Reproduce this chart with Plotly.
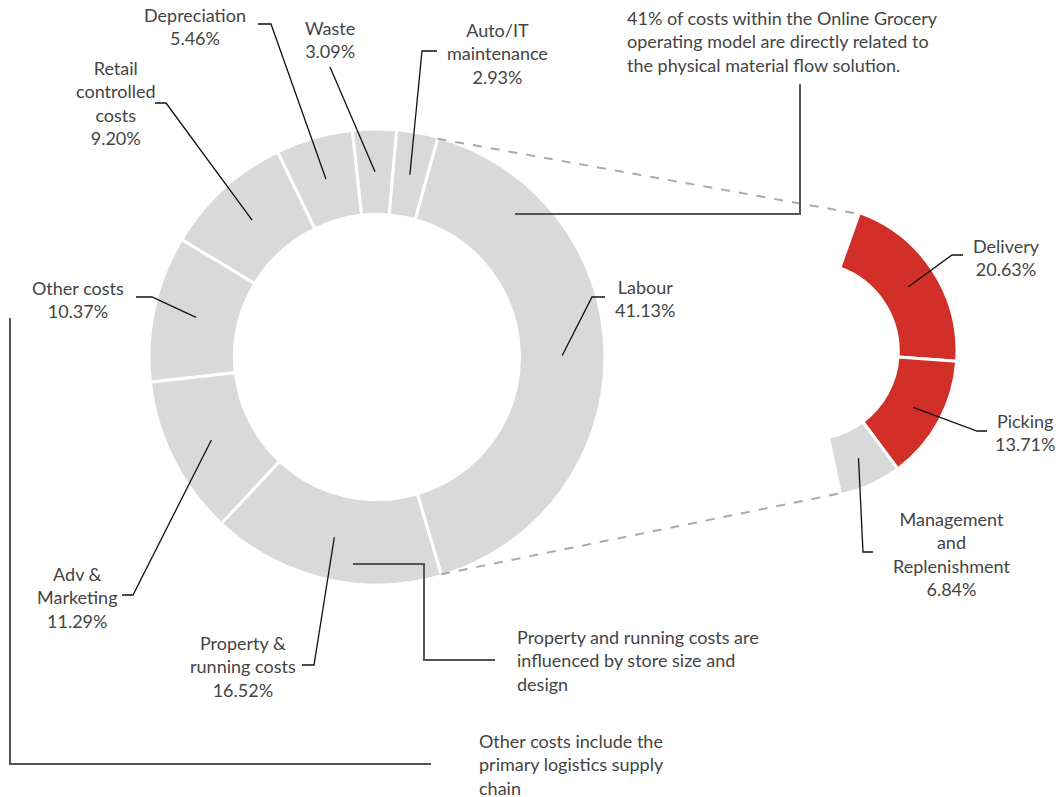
import math
import plotly.graph_objects as go

# ---- data -------------------------------------------------------------
cost_names = ["Labour", "Property &<br>running costs", "Adv &<br>Marketing", "Other costs",
              "Retail<br>controlled<br>costs", "Depreciation", "Waste", "Auto/IT<br>maintenance"]
cost_share = [41.13, 16.52, 11.29, 10.37, 9.20, 5.46, 3.09, 2.93]

labour_names = ["Delivery", "Picking", "Management<br>and<br>Replenishment"]
labour_share = [20.63, 13.71, 6.84]

note_labour = "41% of costs within the Online Grocery<br>operating model are directly related to<br>the physical material flow solution."
note_property = "Property and running costs are<br>influenced by store size and<br>design"
note_other = "Other costs include the<br>primary logistics supply<br>chain"

# ---- canvas / geometry (pixels, y down) -------------------------------
W, H = 1056, 797
FONT = "Lato"
TXT = "#444444"
GREY = "#d9d9d9"
RED = "#d12f28"
LINE_W = 3

MAIN_C, MAIN_R, MAIN_HOLE, MAIN_ROT = (377, 357), 228, 0.625, 15.5
SUB_C, SUB_R, SUB_HOLE, SUB_ROT = (810, 351), 147, 0.6, 19.7


def px(x):
    return x / W


def py(y):
    return 1 - y / H


def domain(c, r):
    return dict(x=[px(c[0] - r), px(c[0] + r)], y=[py(c[1] + r), py(c[1] - r)])


def polar(c, r, deg):
    a = math.radians(deg)
    return (c[0] + r * math.sin(a), c[1] - r * math.cos(a))


def slice_angles(values, rot, total):
    out, a = [], rot
    for v in values:
        b = a + v / total * 360
        out.append((a, b))
        a = b
    return out


def path(points):
    return "M " + " L ".join(f"{px(x):.5f},{py(y):.5f}" for x, y in points)


total_main = sum(cost_share)
main_ang = slice_angles(cost_share, MAIN_ROT, total_main)
sub_ang = slice_angles(labour_share, SUB_ROT, 100.0)

fig = go.Figure()

fig.add_trace(go.Pie(
    values=cost_share, labels=[n.replace("<br>", " ") for n in cost_names],
    sort=False, direction="clockwise", rotation=MAIN_ROT, hole=MAIN_HOLE,
    marker=dict(colors=[GREY] * len(cost_share), line=dict(color="white", width=LINE_W)),
    textinfo="none", hoverinfo="label+percent", showlegend=False,
    domain=domain(MAIN_C, MAIN_R),
))

hidden = 100.0 - sum(labour_share)
fig.add_trace(go.Pie(
    values=labour_share + [hidden], labels=[n.replace("<br>", " ") for n in labour_names] + [""],
    sort=False, direction="clockwise", rotation=SUB_ROT, hole=SUB_HOLE,
    marker=dict(colors=[RED, RED, GREY, "rgba(0,0,0,0)"],
                line=dict(color="white", width=[LINE_W, LINE_W, LINE_W, 0])),
    textinfo="none", hoverinfo="skip", showlegend=False,
    domain=domain(SUB_C, SUB_R),
))

shapes = []
annotations = []

# label text position and leader elbow (text end -> elbow -> slice)
main_label_pos = [
    dict(xy=(645, 298), line=[(605, 297), (592, 297)]),           # Labour
    dict(xy=(243, 666), line=[(302, 665), (314, 665)]),           # Property
    dict(xy=(77, 597), line=[(122, 595), (133, 595)]),            # Adv
    dict(xy=(78, 299), line=[(136, 297), (152, 297)]),            # Other
    dict(xy=(115, 103), line=[(155, 103), (166, 103)]),           # Retail
    dict(xy=(195, 26), line=[(258, 24), (271, 24)]),              # Depreciation
    dict(xy=(330, 40), line=[(330, 67)]),                         # Waste
    dict(xy=(497, 54), line=[(437, 51), (422, 51)]),              # Auto/IT
]
sub_label_pos = [
    dict(xy=(1006, 257), line=[(963, 255), (952, 255)]),          # Delivery
    dict(xy=(1025, 432), line=[(987, 431), (977, 431)]),          # Picking
    dict(xy=(951, 554), line=[(873, 552), (863, 552)]),           # Management
]

main_mid_r = MAIN_R * (1 + MAIN_HOLE) / 2
sub_mid_r = SUB_R * (1 + SUB_HOLE) / 2

for name, val, (a0, a1), pos in zip(cost_names, cost_share, main_ang, main_label_pos):
    anchor = polar(MAIN_C, main_mid_r, (a0 + a1) / 2)
    shapes.append(dict(type="path", path=path(pos["line"] + [anchor]), xref="paper", yref="paper",
                       line=dict(color="#111111", width=1.3)))
    annotations.append(dict(text=f"{name}<br>{val:.2f}%", x=px(pos["xy"][0]), y=py(pos["xy"][1]),
                            xanchor="center", yanchor="middle", align="center"))

for name, val, (a0, a1), pos in zip(labour_names, labour_share, sub_ang, sub_label_pos):
    anchor = polar(SUB_C, sub_mid_r, (a0 + a1) / 2)
    shapes.append(dict(type="path", path=path(pos["line"] + [anchor]), xref="paper", yref="paper",
                       line=dict(color="#111111", width=1.3)))
    annotations.append(dict(text=f"{name}<br>{val:.2f}%", x=px(pos["xy"][0]), y=py(pos["xy"][1]),
                            xanchor="center", yanchor="middle", align="center"))

# dashed connectors from the Labour slice edges to the breakdown arc
lab_a0, lab_a1 = main_ang[0]
sub_a0, sub_a1 = sub_ang[0][0], sub_ang[-1][1]
for ma, sa in ((lab_a0, sub_a0), (lab_a1, sub_a1)):
    p0 = polar(MAIN_C, MAIN_R - LINE_W / 2, ma)
    p1 = polar(SUB_C, SUB_R - LINE_W / 2, sa)
    shapes.append(dict(type="line", xref="paper", yref="paper",
                       x0=px(p0[0]), y0=py(p0[1]), x1=px(p1[0]), y1=py(p1[1]),
                       line=dict(color="#aaaaaa", width=2, dash="dash")))

# callout notes with bracket lines
callouts = [
    dict(text=note_labour, xy=(625, 41), line=[(800, 84), (800, 214), (515, 214)]),
    dict(text=note_property, xy=(515, 660), line=[(353, 564), (424, 564), (424, 660), (495, 660)]),
    dict(text=note_other, xy=(477, 764), line=[(10, 318), (10, 764), (431, 764)]),
]
for c in callouts:
    shapes.append(dict(type="path", path=path(c["line"]), xref="paper", yref="paper",
                       line=dict(color="#555555", width=2)))
    annotations.append(dict(text=c["text"], x=px(c["xy"][0]), y=py(c["xy"][1]),
                            xanchor="left", yanchor="middle", align="left"))

for a in annotations:
    a.update(xref="paper", yref="paper", showarrow=False)

fig.update_layout(
    width=W, height=H, autosize=False,
    margin=dict(l=0, r=0, t=0, b=0),
    paper_bgcolor="white", plot_bgcolor="white",
    font=dict(family=FONT, size=18, color=TXT),
    shapes=shapes, annotations=annotations,
    showlegend=False,
)

fig.write_html("out.html")
